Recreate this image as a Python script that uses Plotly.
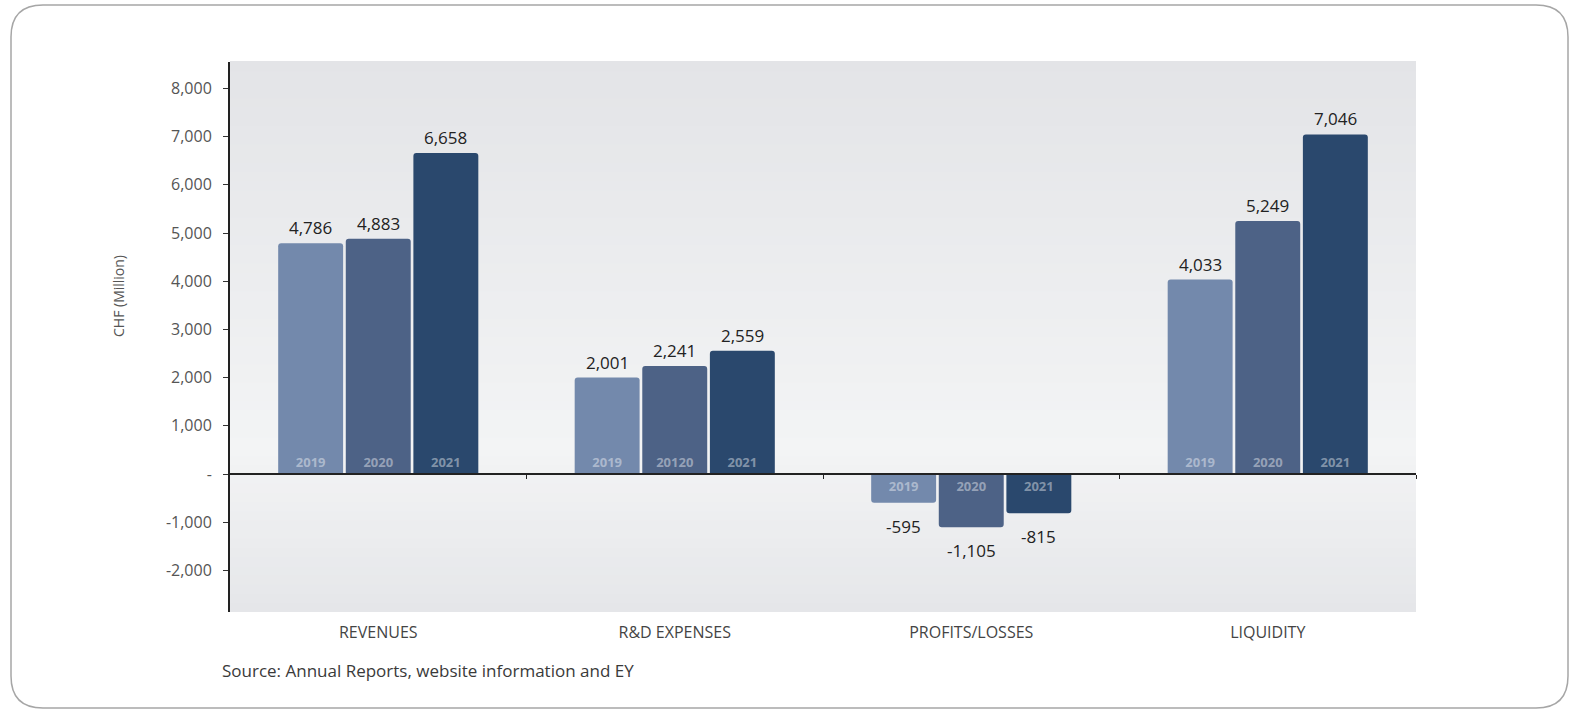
import plotly.graph_objects as go

# ---------------- data ----------------
categories = ["REVENUES", "R&D EXPENSES", "PROFITS/LOSSES", "LIQUIDITY"]
years = ["2019", "2020", "2021"]
values_2019 = [4786, 2001, -595, 4033]
values_2020 = [4883, 2241, -1105, 5249]
values_2021 = [6658, 2559, -815, 7046]
year_labels_2019 = ["2019", "2019", "2019", "2019"]
year_labels_2020 = ["2020", "20120", "2020", "2020"]
year_labels_2021 = ["2021", "2021", "2021", "2021"]
y_tick_values = [-2000, -1000, 0, 1000, 2000, 3000, 4000, 5000, 6000, 7000, 8000]
y_tick_labels = ["-2,000", "-1,000", "-", "1,000", "2,000", "3,000", "4,000",
                 "5,000", "6,000", "7,000", "8,000"]
y_title = "CHF (Million)"
source_text = "Source: Annual Reports, website information and EY"

series_values = [values_2019, values_2020, values_2021]
series_year_labels = [year_labels_2019, year_labels_2020, year_labels_2021]

# ---------------- style ----------------
W, H = 1573, 712
ML, MR, MT, MB = 230, 157, 62, 100
PW, PH = W - ML - MR, H - MT - MB
Y_MIN, Y_MAX = -2863, 8548
bar_colors = ["#7389ac", "#4d6286", "#2a486d"]
offsets = [-0.228, 0.0, 0.228]
bar_width = 0.219
FONT = "Open Sans"


def px_to_paper(px, py):
    return (px - ML) / PW, (H - MB - py) / PH


fig = go.Figure()

cat_idx = list(range(len(categories)))
for j, yr in enumerate(years):
    xs = [i + offsets[j] for i in cat_idx]
    fig.add_trace(go.Bar(
        x=xs, y=series_values[j], width=bar_width, name=yr,
        marker=dict(color=bar_colors[j], line=dict(width=0), cornerradius=3),
        text=series_year_labels[j], textposition="inside", insidetextanchor="start",
        textangle=0, constraintext="none",
        insidetextfont=dict(family=FONT, size=13, color="rgba(255,255,255,0.42)",
                            weight="bold"),
        hoverinfo="skip", showlegend=False,
    ))
    for i in cat_idx:
        v = series_values[j][i]
        fig.add_annotation(
            x=xs[i], y=v, text=f"{v:,}", showarrow=False,
            yanchor="bottom" if v >= 0 else "top",
            yshift=2 if v >= 0 else -10,
            font=dict(family=FONT, size=17, color="#222222"),
        )

# dummy trace so the zero-line axis (with boundary ticks) is drawn
fig.add_trace(go.Scatter(x=[], y=[], xaxis="x2", yaxis="y", showlegend=False,
                         hoverinfo="skip"))

# background gradient bands
n_bands = 60
top_c = (227, 228, 231)
mid_c = (243, 244, 245)
bot_c = (229, 230, 233)
mid_pos = 0.30  # fraction from bottom where it's lightest
for k in range(n_bands):
    y0 = k / n_bands
    y1 = (k + 1) / n_bands
    yc = (y0 + y1) / 2
    if yc < mid_pos:
        t = yc / mid_pos
        c = [bot_c[m] + (mid_c[m] - bot_c[m]) * t for m in range(3)]
    else:
        t = (yc - mid_pos) / (1 - mid_pos)
        c = [mid_c[m] + (top_c[m] - mid_c[m]) * t for m in range(3)]
    fig.add_shape(type="rect", xref="paper", yref="paper", x0=0, x1=1, y0=y0, y1=y1 + 0.002,
                  fillcolor="rgb(%d,%d,%d)" % tuple(int(round(v)) for v in c),
                  line=dict(width=0), layer="below")

# rounded frame
fx0, fy0 = px_to_paper(11, 5)
fx1, fy1 = px_to_paper(1568, 708)
rx = 32 / PW
ry = 32 / PH
path = (f"M {fx0 + rx},{fy0} L {fx1 - rx},{fy0} Q {fx1},{fy0} {fx1},{fy0 - ry} "
        f"L {fx1},{fy1 + ry} Q {fx1},{fy1} {fx1 - rx},{fy1} "
        f"L {fx0 + rx},{fy1} Q {fx0},{fy1} {fx0},{fy1 + ry} "
        f"L {fx0},{fy0 - ry} Q {fx0},{fy0} {fx0 + rx},{fy0} Z")
fig.add_shape(type="path", xref="paper", yref="paper", path=path,
              line=dict(color="#a6a6a6", width=1.5), fillcolor="rgba(0,0,0,0)", layer="below")

# y axis title
tx, ty = px_to_paper(118, 296)
fig.add_annotation(x=tx, y=ty, xref="paper", yref="paper", xanchor="center", yanchor="middle",
                   text=y_title, textangle=-90, showarrow=False,
                   font=dict(family=FONT, size=14, color="#555555"))

# source text
sx, sy = px_to_paper(220, 670)
fig.add_annotation(x=sx, y=sy, xref="paper", yref="paper", xanchor="left", yanchor="middle",
                   text=source_text, showarrow=False,
                   font=dict(family=FONT, size=17, color="#3a3a3a"))

zero_pos = (0 - Y_MIN) / (Y_MAX - Y_MIN)

fig.update_layout(
    width=W, height=H, autosize=False,
    margin=dict(l=ML, r=MR, t=MT, b=MB, pad=0),
    paper_bgcolor="white", plot_bgcolor="rgba(0,0,0,0)",
    barmode="overlay",
    font=dict(family=FONT, color="#444444"),
    xaxis=dict(range=[-0.5, len(categories) - 0.5], tickvals=cat_idx, ticktext=categories,
               showgrid=False, zeroline=False, showline=False, ticks="",
               tickfont=dict(family=FONT, size=16, color="#444444"),
               ticklabelstandoff=9, fixedrange=True),
    xaxis2=dict(overlaying="x", anchor="free", position=zero_pos,
                range=[-0.5, len(categories) - 0.5],
                tickvals=[i + 0.5 for i in cat_idx], showticklabels=False,
                ticks="outside", ticklen=4, tickcolor="#222222", tickwidth=1.2,
                showline=True, linecolor="#222222", linewidth=1.5,
                showgrid=False, zeroline=False),
    yaxis=dict(range=[Y_MIN, Y_MAX], tickvals=y_tick_values, ticktext=y_tick_labels,
               showgrid=False, zeroline=False, showline=True, linecolor="#222222", linewidth=2,
               ticks="outside", ticklen=5, tickcolor="#333333",
               tickfont=dict(family=FONT, size=16, color="#555555"),
               ticklabelstandoff=8),
)

fig.write_html("out.html", config={"displayModeBar": False},
               post_script="document.body.style.margin='0';document.body.style.overflow='hidden';")
